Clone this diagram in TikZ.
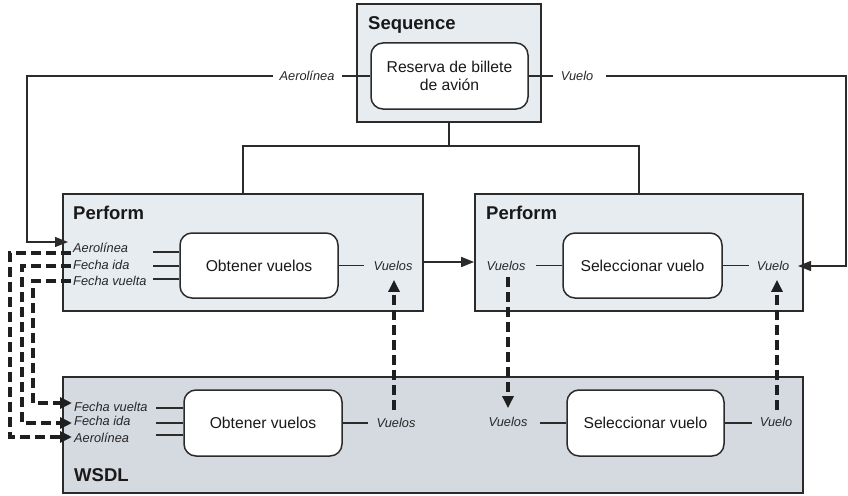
\documentclass[tikz,border=0pt]{standalone}
\usepackage{fontspec}
\setmainfont{Liberation Sans}
\usetikzlibrary{arrows.meta,calc}
\definecolor{pfill}{HTML}{E7ECF1}
\definecolor{wfill}{HTML}{D5D9E0}
\definecolor{edge}{HTML}{2B2B2B}
\begin{document}
\begin{tikzpicture}[x=1pt,y=-1pt,
  outer/.style={draw=edge,line width=1.7pt,inner sep=0pt,fill=pfill},
  proc/.style={draw=edge,line width=1.5pt,rounded corners=12pt,fill=white,inner sep=0pt,
    font=\fontsize{15.7}{18}\selectfont,text=black!90,align=center},
  title/.style={font=\fontsize{18.5}{20}\selectfont\bfseries,text=black!90,anchor=west,inner sep=0pt},
  port/.style={font=\fontsize{12.8}{14}\selectfont\itshape,text=black!85,inner sep=2pt},
  wire/.style={draw=edge,line width=1.4pt},
  flow/.style={wire,-{Triangle[length=13pt,width=10pt]}},
  bind/.style={draw=black!88,line width=3.3pt,dash pattern=on 10pt off 5pt,-{Triangle[length=12pt,width=11pt]}}
]
\useasboundingbox (0,0) rectangle (848,495);

% containers
\node[outer,minimum width=184pt,minimum height=118pt] (seq) at (449,63) {};
\node[outer,minimum width=360pt,minimum height=117pt] (p1) at (243,252.5) {};
\node[outer,minimum width=328pt,minimum height=117pt] (p2) at (639,252.5) {};
\node[outer,fill=wfill,minimum width=740pt,minimum height=116pt] (w) at (433,435) {};

% titles
\node[title] (seqT) at (368,25) {Sequence};
\node[title] (p1T) at (73,213) {Perform};
\node[title] (p2T) at (486,213) {Perform};
\node[title] (wT) at (74,475) {WSDL};

% processes
\node[proc,minimum width=157pt,minimum height=66pt] (res) at (449.5,76) {Reserva de billete\\de avión};
\node[proc,minimum width=158pt,minimum height=65pt] (o1) at (259,265.5) {Obtener vuelos};
\node[proc,minimum width=159pt,minimum height=65pt] (s1) at (642.5,265.5) {Seleccionar vuelo};
\node[proc,minimum width=158pt,minimum height=66pt] (o2) at (263,423) {Obtener vuelos};
\node[proc,minimum width=157pt,minimum height=66pt] (s2) at (645.5,423) {Seleccionar vuelo};

% ports
\node[port] (tA) at (307,76) {Aerolínea};
\node[port] (tV) at (577,76) {Vuelo};
\node[port,anchor=west] (p1a) at (71,248) {Aerolínea};
\node[port,anchor=west] (p1f) at (71,265) {Fecha ida};
\node[port,anchor=west] (p1v) at (71,281) {Fecha vuelta};
\node[port] (p1s) at (393,266) {Vuelos};
\node[port] (p2s) at (506,266) {Vuelos};
\node[port] (p2o) at (773,266) {Vuelo};
\node[port,anchor=west] (wv) at (72,407) {Fecha vuelta};
\node[port,anchor=west] (wf) at (72,421) {Fecha ida};
\node[port,anchor=west] (wa) at (72,438) {Aerolínea};
\node[port] (wS) at (396,423) {Vuelos};
\node[port] (wS2) at (508,422) {Vuelos};
\node[port] (wO) at (776,422) {Vuelo};

% helper points
\coordinate (cL) at (27,76);
\coordinate (cR) at (846,76);
\coordinate (inA) at (68,242);
\coordinate (inV) at (798,266);
\coordinate (bL) at (243,146);
\coordinate (bR) at (639,146);

% top wiring
\draw[wire,shorten >=5pt] (res.west) -- (tA.east);
\draw[flow,shorten <=4pt] (tA.west) -- (cL) |- (inA);
\draw[wire,shorten >=6pt] (res.east) -- (tV.west);
\draw[flow,shorten <=11pt] (tV.east) -- (cR) |- (inV);
\draw[wire] (seq.south) -- (seq.south |- bL);
\draw[wire] (bL |- p1.north) -- (bL) -- (bR) -- (bR |- p2.north);

% port stubs
\draw[wire] (o1.west |- 0,252) -- ++(-26,0);
\draw[wire] (o1.west |- 0,266) -- ++(-26,0);
\draw[wire] (o1.west |- 0,279) -- ++(-26,0);
\draw[wire] (o1.east) -- ++(25,0);
\draw[wire] (s1.west) -- ++(-26,0);
\draw[wire] (s1.east) -- ++(26,0);
\draw[wire] (o2.west |- 0,408) -- ++(-27,0);
\draw[wire] (o2.west |- 0,423) -- ++(-27,0);
\draw[wire] (o2.west |- 0,435) -- ++(-27,0);
\draw[wire] (o2.east) -- ++(25,0);
\draw[wire] (s2.west) -- ++(-26,0);
\draw[wire] (s2.east) -- ++(27,0);

% flow between performs
\draw[flow] (p1.east |- 0,262) -- (p2.west |- 0,262);

% bindings
\draw[bind] (p1a.west |- 0,253) -| (10,437) -- (wa.west |- 0,437);
\draw[bind] (p1f.west |- 0,266) -| (22,423) -- (wf.west |- 0,423);
\draw[bind] (p1v.west |- 0,281) -| (33,403) -- (wv.west |- 0,403);
\draw[bind,shorten <=6pt,shorten >=7pt] (wS.north -| 394,0) -- (p1s.south -| 394,0);
\draw[bind,shorten <=4pt,shorten >=7pt] (p2s.south -| 508,0) -- (wS2.north -| 508,0);
\draw[bind,shorten <=5pt,shorten >=7pt] (wO.north -| 777,0) -- (p2o.south -| 777,0);
\end{tikzpicture}
\end{document}
